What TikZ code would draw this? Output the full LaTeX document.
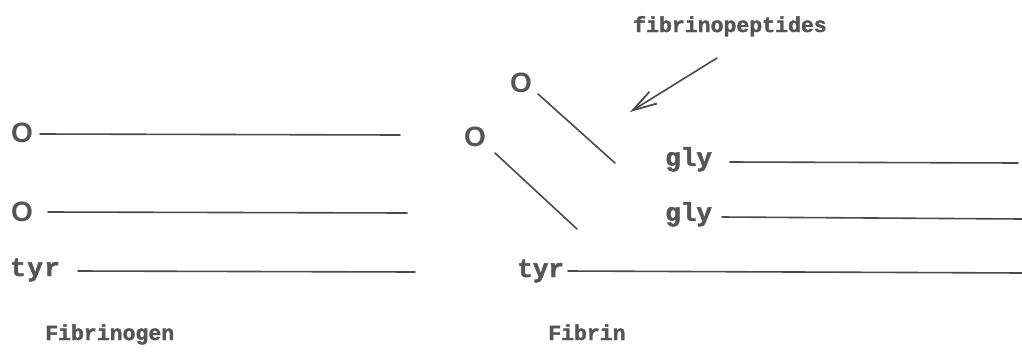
\documentclass[tikz,border=0pt]{standalone}
\usepackage{fontspec}
\newfontfamily\tw{Liberation Mono}[BoldFeatures={FakeBold=1.8}]
\newfontfamily\osans{Liberation Sans}
\usetikzlibrary{arrows.meta}
\definecolor{ink}{HTML}{4A4A4A}
\definecolor{txt}{HTML}{555555}
\begin{document}
\begin{tikzpicture}[x=1pt,y=-1pt,
  chain/.style={draw=ink,line width=1.6pt,line cap=round},
  lbl/.style={text=txt,inner sep=0pt,anchor=base west,font=\tw\bfseries\fontsize{21.5}{24}\selectfont},
  res/.style={text=txt,inner sep=0pt,anchor=base west,font=\tw\bfseries\fontsize{26}{30}\selectfont},
  ox/.style={text=txt,inner sep=0pt,font=\osans\bfseries\fontsize{28}{32}\selectfont}]
\useasboundingbox (0,0) rectangle (1022,354);
% Fibrinogen
\node[ox] (oA) at (22,133) {O};
\node[ox] (oB) at (22,212) {O};
\node[res] (tyrL) at (10,276) {t\kern1.5pt y\kern1.5pt r};
\coordinate (a1) at (40,134); \coordinate (a2) at (400,135);
\coordinate (b1) at (48,212); \coordinate (b2) at (407,213);
\coordinate (c1) at (78,271); \coordinate (c2) at (415,272);
\draw[chain] (a1) -- (a2);
\draw[chain] (b1) -- (b2);
\draw[chain] (c1) -- (c2);
\node[lbl] (fgn) at (45,340) {Fibrinogen};
% Fibrin
\node[lbl] (fp) at (633,32) {fibrinopeptides};
\coordinate (p1) at (717,58); \coordinate (p2) at (630,112);
\draw[chain,-{Straight Barb[length=24pt,width=14pt,line width=1.8pt]}] (p1) -- (p2);
\node[ox] (oC) at (521,83) {O};
\node[ox] (oD) at (475,137) {O};
\coordinate (d1) at (538,94); \coordinate (d2) at (615,163);
\coordinate (e1) at (495,153); \coordinate (e2) at (577,229);
\draw[chain] (d1) -- (d2);
\draw[chain] (e1) -- (e2);
\node[res] (glyA) at (665,166) {gly};
\node[res] (glyB) at (665,221) {gly};
\node[res] (tyrR) at (517,277) {tyr};
\coordinate (f1) at (730,162); \coordinate (f2) at (1018,163);
\coordinate (g1) at (722,217); \coordinate (g2) at (1022,219);
\coordinate (h1) at (568,271); \coordinate (h2) at (1022,273);
\draw[chain] (f1) -- (f2);
\draw[chain] (g1) -- (g2);
\draw[chain] (h1) -- (h2);
\node[lbl] (fbn) at (548,340) {Fibrin};
\end{tikzpicture}
\end{document}
